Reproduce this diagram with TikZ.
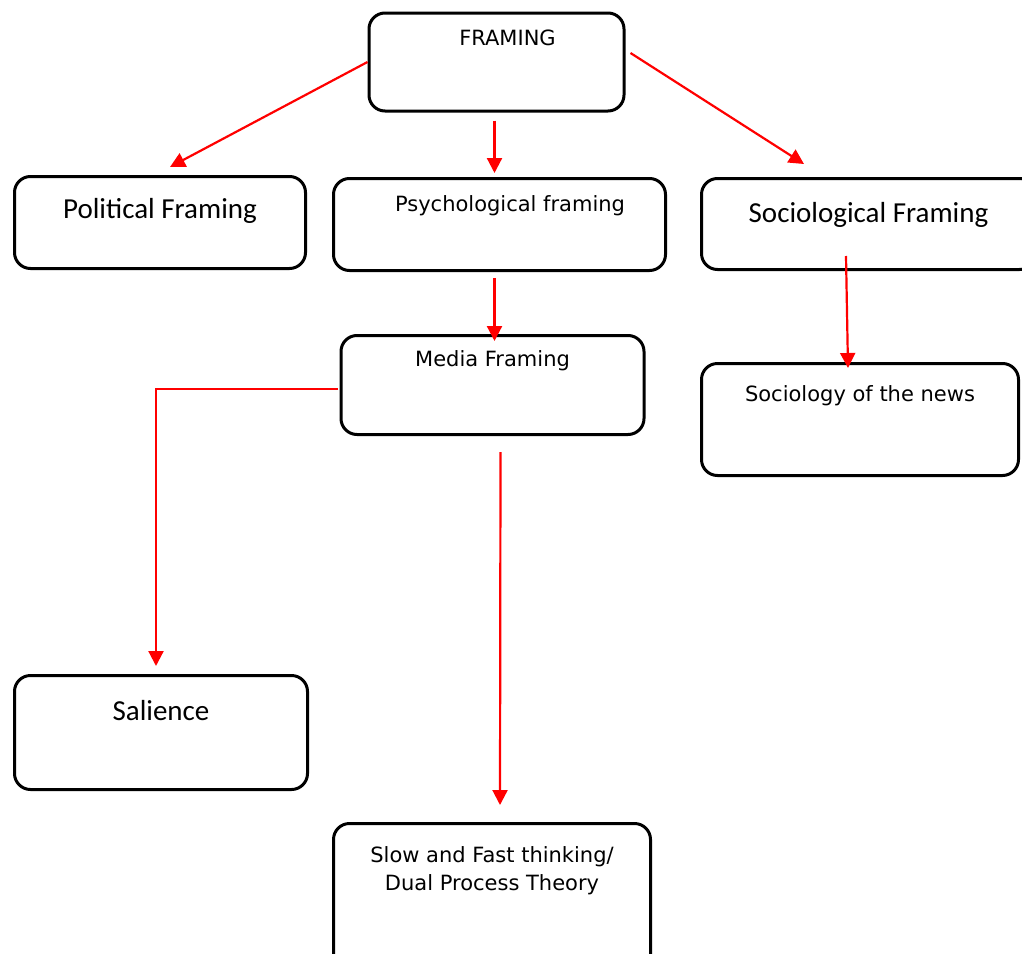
\documentclass[tikz,border=0pt]{standalone}
\usepackage{fontspec}
\newfontfamily\verdfont{DejaVu Sans}
\newfontfamily\califont{Carlito}
\usetikzlibrary{arrows.meta, calc}

\begin{document}
\begin{tikzpicture}[x=1pt,y=-1pt,
    box/.style={rectangle,rounded corners=16pt,draw=black,line width=3pt,
                inner sep=0pt,anchor=north west},
    vtext/.style={font=\verdfont\fontsize{21}{28}\selectfont},
    ctext/.style={font=\califont\fontsize{29}{35}\selectfont},
    link/.style={red,line width=2.2pt,-{Triangle[length=15pt,width=15pt]}}]
      \useasboundingbox (0,0) rectangle (1022,953);
      \clip (0,0) rectangle (1022,953);
      % boxes
      \node[box,vtext,minimum width=255pt,text height=32.5pt,text depth=65.5pt]
            (framing) at(367.5,11.5){\hspace*{22pt}FRAMING};
      \node[box,ctext,minimum width=291pt,text height=42pt,text depth=50pt]
            (polit) at(13,175){Political Framing};
      \node[box,vtext,minimum width=332pt,text height=33pt,text depth=59pt]
            (psych) at(332,177){\hspace*{21pt}Psychological framing};
      \node[box,ctext,minimum width=334pt,text height=44pt,text depth=47pt]
            (socio) at(700,177){Sociological Framing};
      \node[box,vtext,minimum width=303pt,text height=31pt,text depth=68pt]
            (media) at(339.5,334){Media Framing};
      \node[box,vtext,minimum width=317pt,text height=38pt,text depth=74pt]
            (news) at(700,362){Sociology of the news};
      \node[box,ctext,minimum width=293pt,text height=45pt,text depth=69pt]
            (salience) at(13,674){Salience};
      \node[box,vtext,align=center,minimum width=317pt,text height=67pt,text depth=88pt]
            (slow) at(332,822){Slow and Fast thinking/\\Dual Process Theory};
      % arrows
      \draw[link](framing.west)--($(polit.north)+(10,-8)$);
      \draw[link]($(framing.south)+(-2,8)$)--($(psych.north)+(-5,-4)$);
      \draw[link]($(framing.east)+(5,-9)$)--($(socio.north west)+(104,-13)$);
      \draw[link]($(psych.south)+(-5,6)$)--($(media.north)+(2,7)$);
      \draw[link]($(media.west)+(-2,4)$)-|($(salience.north)+(-5,-8)$);
      \draw[link]($(media.south)+(8,16)$)--($(slow.north)+(8,-17)$);
      \draw[link]($(socio.north west)+(146,79)$)--($(news.north)+(-12,6)$);
\end{tikzpicture}
\end{document}
